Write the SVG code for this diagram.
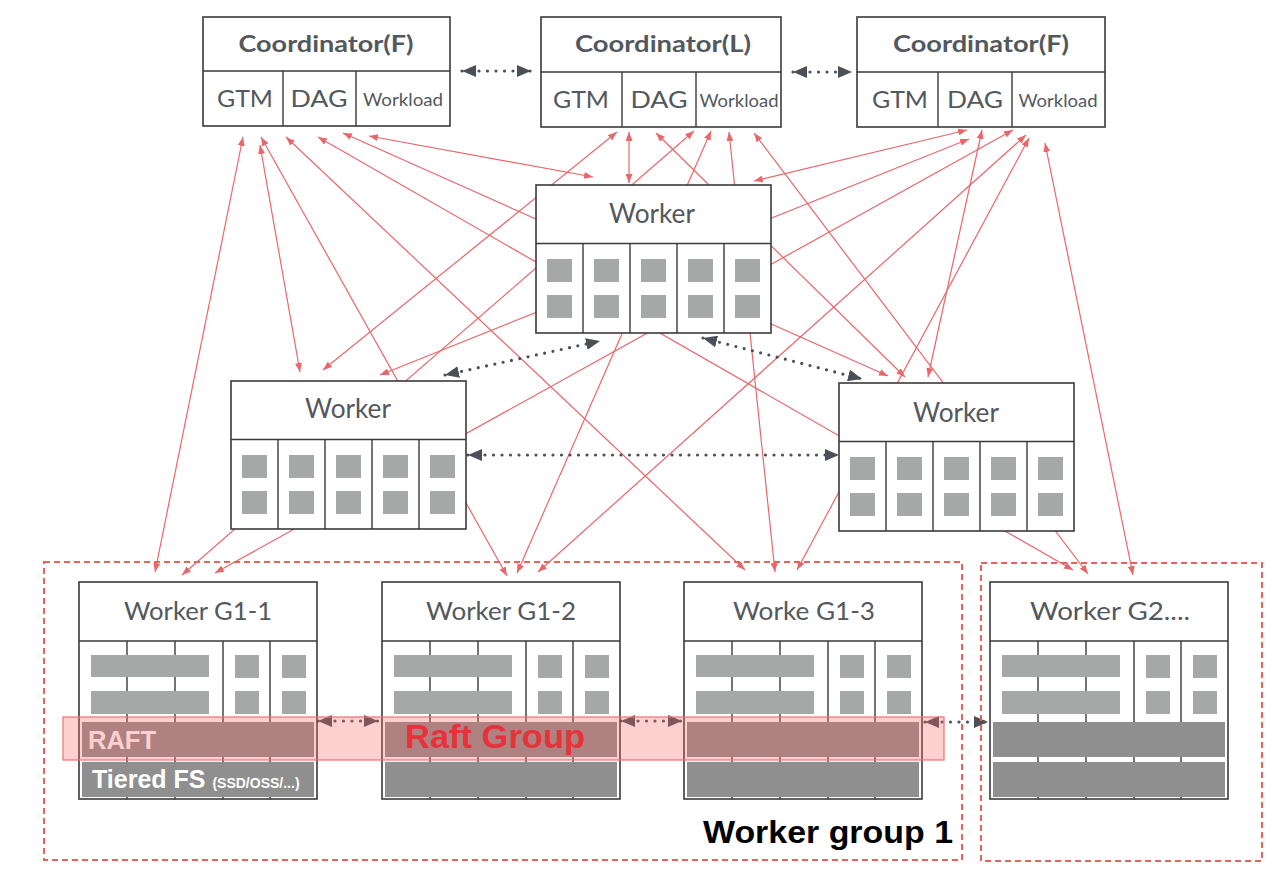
<svg xmlns="http://www.w3.org/2000/svg" xmlns:xlink="http://www.w3.org/1999/xlink" width="1282" height="876" viewBox="0 0 1282 876">
<style>
.box{fill:#fff;stroke:#3a3a3a;stroke-width:1.6}
.ln{stroke:#3a3a3a;stroke-width:1.4;fill:none}
.sq{fill:#a6a8a7}
.bar{fill:#8f8f8f}
.t{font-family:Lato,"Open Sans",sans-serif;fill:#53585e;text-anchor:middle}
.tb{font-weight:700}
.red{stroke:#e8676a;stroke-width:1.2;fill:none;marker-start:url(#ra);marker-end:url(#ra)}
.dot{stroke:#4b5057;stroke-width:3.2;stroke-linecap:round;stroke-dasharray:0 8.5;fill:none;marker-start:url(#da);marker-end:url(#da)}
.grp{fill:none;stroke:#e8625c;stroke-width:2;stroke-dasharray:6 4}
.h{font-family:"Liberation Sans",Arial,sans-serif;font-weight:700}
</style>
<defs>
<marker id="ra" markerUnits="userSpaceOnUse" markerWidth="9" markerHeight="7" refX="9" refY="3.5" orient="auto-start-reverse"><path d="M0,0 L9,3.5 L0,7 z" fill="#e8676a"/></marker>
<marker id="da" markerUnits="userSpaceOnUse" markerWidth="14" markerHeight="12" refX="14" refY="6" orient="auto-start-reverse"><path d="M0,0 L14,6 L0,12 z" fill="#4b5057"/></marker>
<g id="mw">
<rect class="box" x="0" y="0" width="235" height="148"/>
<path class="ln" d="M0,58.5 H235 M47,58.5 V148 M94,58.5 V148 M141,58.5 V148 M188,58.5 V148"/>
<rect class="sq" x="11" y="74" width="25" height="23"/><rect class="sq" x="11" y="110" width="25" height="23"/>
<rect class="sq" x="58" y="74" width="25" height="23"/><rect class="sq" x="58" y="110" width="25" height="23"/>
<rect class="sq" x="105" y="74" width="25" height="23"/><rect class="sq" x="105" y="110" width="25" height="23"/>
<rect class="sq" x="152" y="74" width="25" height="23"/><rect class="sq" x="152" y="110" width="25" height="23"/>
<rect class="sq" x="199" y="74" width="25" height="23"/><rect class="sq" x="199" y="110" width="25" height="23"/>
</g>
<g id="bw">
<rect class="box" x="0" y="0" width="238" height="217"/>
<path class="ln" d="M0,59 H238 M48,59 V217 M96,59 V217 M144,59 V217 M191,59 V217"/>
<rect class="sq" x="12" y="73" width="118" height="22"/><rect class="sq" x="12" y="109" width="118" height="23"/>
<rect class="sq" x="156" y="73" width="24" height="23"/><rect class="sq" x="156" y="109" width="24" height="23"/>
<rect class="sq" x="203" y="73" width="24" height="23"/><rect class="sq" x="203" y="109" width="24" height="23"/>
<rect class="bar" x="3" y="140" width="232" height="35"/><rect class="bar" x="3" y="180" width="232" height="35"/>
</g>
</defs>
<rect x="0" y="0" width="1282" height="876" fill="#fff"/>

<g id="connectors">
<line class="red" x1="243" y1="137" x2="155" y2="572"/>
<line class="red" x1="260" y1="145" x2="300" y2="372"/>
<line class="red" x1="261" y1="137" x2="507" y2="576"/>
<line class="red" x1="286" y1="137" x2="745" y2="570"/>
<line class="red" x1="318" y1="137" x2="1073" y2="570"/>
<line class="red" x1="343" y1="133" x2="888" y2="376"/>
<line class="red" x1="369" y1="136" x2="593" y2="177"/>
<line class="red" x1="617" y1="132" x2="323" y2="370"/>
<line class="red" x1="629" y1="132" x2="629" y2="183"/>
<line class="red" x1="656" y1="133" x2="905" y2="377"/>
<line class="red" x1="694" y1="131" x2="182" y2="575"/>
<line class="red" x1="711" y1="131" x2="517" y2="573"/>
<line class="red" x1="729" y1="132" x2="775" y2="572"/>
<line class="red" x1="754" y1="133" x2="1088" y2="574"/>
<line class="red" x1="967" y1="130" x2="754" y2="181"/>
<line class="red" x1="969" y1="139" x2="380" y2="375"/>
<line class="red" x1="982" y1="130" x2="928" y2="377"/>
<line class="red" x1="1013" y1="130" x2="215" y2="573"/>
<line class="red" x1="1026" y1="135" x2="538" y2="572"/>
<line class="red" x1="1029" y1="138" x2="797" y2="570"/>
<line class="red" x1="1045" y1="143" x2="1133" y2="575"/>
<line class="dot" x1="462" y1="71" x2="531" y2="71"/>
<line class="dot" x1="793" y1="72" x2="852" y2="72"/>
<line class="dot" x1="445" y1="375" x2="600" y2="341"/>
<line class="dot" x1="703" y1="338" x2="862" y2="379"/>
<line class="dot" x1="468" y1="455" x2="839" y2="455"/>
<line class="dot" x1="318" y1="721" x2="378" y2="721"/>
<line class="dot" x1="621" y1="721" x2="682" y2="721"/>
<line class="dot" x1="925" y1="722" x2="988" y2="722"/>
</g>

<g id="worker-group-1">
<rect class="grp" x="44" y="562" width="918" height="298"/>
<text class="h" x="703" y="843" font-size="32" textLength="250" lengthAdjust="spacingAndGlyphs" fill="#000">Worker group 1</text>
</g>
<g id="worker-group-2">
<rect class="grp" x="981" y="563" width="281" height="298"/>
</g>

<g id="coordinator-1">
<rect class="box" x="203" y="17" width="247" height="109"/>
<path class="ln" d="M203,71 H450 M283,71 V126 M356,71 V126"/>
<text class="t tb" x="326" y="52" font-size="23" textLength="175" lengthAdjust="spacingAndGlyphs">Coordinator(F)</text>
<text class="t" x="245" y="107" font-size="24" textLength="56" lengthAdjust="spacingAndGlyphs">GTM</text>
<text class="t" x="319" y="107" font-size="24" textLength="57" lengthAdjust="spacingAndGlyphs">DAG</text>
<text class="t" x="403" y="106" font-size="17" textLength="80" lengthAdjust="spacingAndGlyphs">Workload</text>
</g>
<g id="coordinator-2">
<rect class="box" x="541" y="17" width="240" height="110"/>
<path class="ln" d="M541,72 H781 M622,72 V127 M696,72 V127"/>
<text class="t tb" x="663" y="52" font-size="23" textLength="176" lengthAdjust="spacingAndGlyphs">Coordinator(L)</text>
<text class="t" x="581" y="108" font-size="24" textLength="56" lengthAdjust="spacingAndGlyphs">GTM</text>
<text class="t" x="659" y="108" font-size="24" textLength="57" lengthAdjust="spacingAndGlyphs">DAG</text>
<text class="t" x="739" y="107" font-size="17" textLength="79" lengthAdjust="spacingAndGlyphs">Workload</text>
</g>
<g id="coordinator-3">
<rect class="box" x="857" y="17" width="248" height="110"/>
<path class="ln" d="M857,72 H1105 M938,72 V127 M1012,72 V127"/>
<text class="t tb" x="981" y="52" font-size="23" textLength="176" lengthAdjust="spacingAndGlyphs">Coordinator(F)</text>
<text class="t" x="900" y="108" font-size="24" textLength="56" lengthAdjust="spacingAndGlyphs">GTM</text>
<text class="t" x="975" y="108" font-size="24" textLength="56" lengthAdjust="spacingAndGlyphs">DAG</text>
<text class="t" x="1058" y="107" font-size="17" textLength="79" lengthAdjust="spacingAndGlyphs">Workload</text>
</g>

<g id="worker-top">
<use xlink:href="#mw" x="536" y="185"/>
<text class="t" x="652" y="223" font-size="26" textLength="86" lengthAdjust="spacingAndGlyphs">Worker</text>
</g>
<g id="worker-left">
<use xlink:href="#mw" x="231" y="381"/>
<text class="t" x="348" y="418" font-size="26" textLength="86" lengthAdjust="spacingAndGlyphs">Worker</text>
</g>
<g id="worker-right">
<use xlink:href="#mw" x="839" y="383"/>
<text class="t" x="956" y="422" font-size="26" textLength="86" lengthAdjust="spacingAndGlyphs">Worker</text>
</g>

<g id="worker-g1-1">
<use xlink:href="#bw" x="79" y="582"/>
<text class="t" x="198" y="620" font-size="25" textLength="148" lengthAdjust="spacingAndGlyphs">Worker G1-1</text>
<text class="h" x="88" y="749" font-size="25" textLength="68" lengthAdjust="spacingAndGlyphs" fill="#fff">RAFT</text>
<text class="h" x="92" y="788" font-size="25" fill="#fff">Tiered FS <tspan font-size="14">(SSD/OSS/...)</tspan></text>
</g>
<g id="worker-g1-2">
<use xlink:href="#bw" x="382" y="582"/>
<text class="t" x="501" y="620" font-size="25" textLength="150" lengthAdjust="spacingAndGlyphs">Worker G1-2</text>
</g>
<g id="worker-g1-3">
<use xlink:href="#bw" x="684" y="582"/>
<text class="t" x="804" y="620" font-size="25" textLength="142" lengthAdjust="spacingAndGlyphs">Worke G1-3</text>
</g>
<g id="worker-g2">
<use xlink:href="#bw" x="990" y="582"/>
<text class="t" x="1110" y="620" font-size="25" textLength="160" lengthAdjust="spacingAndGlyphs">Worker G2....</text>
</g>

<g id="raft-group">
<rect x="63" y="717" width="881" height="43" fill="#f86464" fill-opacity="0.31" stroke="#ee7272" stroke-width="1.2"/>
<text class="h" x="405" y="748" font-size="33" textLength="180" lengthAdjust="spacingAndGlyphs" fill="#e8323a">Raft Group</text>
</g>
</svg>
